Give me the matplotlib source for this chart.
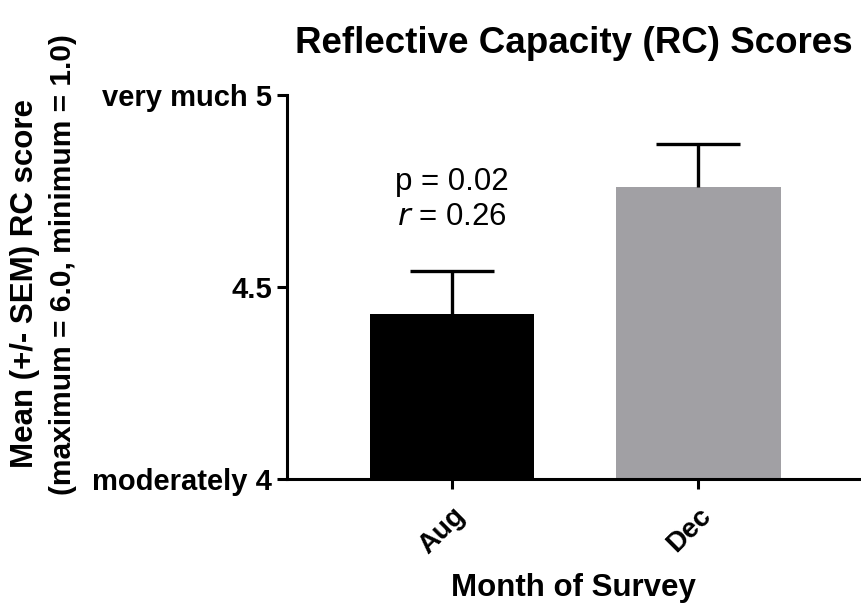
import numpy as np
from matplotlib import pyplot as plt

plt.rcParams['font.family'] = ['Liberation Sans', 'DejaVu Sans']

months = ['Aug', 'Dec']
means = [4.43, 4.76]
sem = [0.112, 0.112]
colors = ['#000000', '#A1A0A4']
ytick_vals = [4, 4.5, 5]
ytick_labels = ['moderately 4', '4.5', 'very much 5']

fig = plt.figure(figsize=(8.61, 6.05), dpi=100)
ax = fig.add_axes([0.333, 0.208, 0.667, 0.635])

x = np.arange(len(months))
ax.bar(x, np.array(means) - 4, bottom=4, width=0.667, color=colors, zorder=2)
eb = ax.errorbar(x, means, yerr=[[0, 0], sem], fmt='none', ecolor='black',
                 elinewidth=2.4, capsize=30, capthick=2.4, zorder=3)
# only the upper cap, like the original
eb[1][0].set_visible(False)

ax.set_ylim(4, 5)
ax.set_xlim(-0.67, 1.66)
ax.set_yticks(ytick_vals)
ax.set_yticklabels(ytick_labels, fontsize=21, fontweight='bold')
ax.set_xticks(x)
ax.set_xticklabels(months, fontsize=20, fontweight='bold', rotation=45,
                   ha='right', rotation_mode='anchor')

for s in ['top', 'right']:
    ax.spines[s].set_visible(False)
for s in ['left', 'bottom']:
    ax.spines[s].set_linewidth(2.2)
ax.tick_params(width=2.2, length=7)
ax.tick_params(axis='x', pad=10)

ax.text(0, 4.773, 'p = 0.02', ha='center', va='center', fontsize=22.5)
ax.text(0, 4.682, '$\\it{r}$ = 0.26', ha='center', va='center', fontsize=22.5)

fig.text(0.667, 0.912, 'Reflective Capacity (RC) Scores', ha='center', va='baseline',
         fontsize=26.5, fontweight='bold')
fig.text(0.573 / 0.861, 0.028, 'Month of Survey', ha='center', va='center',
         fontsize=22.5, fontweight='bold')
fig.text(25 / 861, 1 - 283 / 605, 'Mean (+/- SEM) RC score', rotation=90,
         ha='center', va='center', fontsize=22.5, fontweight='bold')
fig.text(63 / 861, 1 - 265 / 605, '(maximum = 6.0, minimum = 1.0)', rotation=90,
         ha='center', va='center', fontsize=21.5, fontweight='bold')

plt.savefig('out.png', dpi=100)
